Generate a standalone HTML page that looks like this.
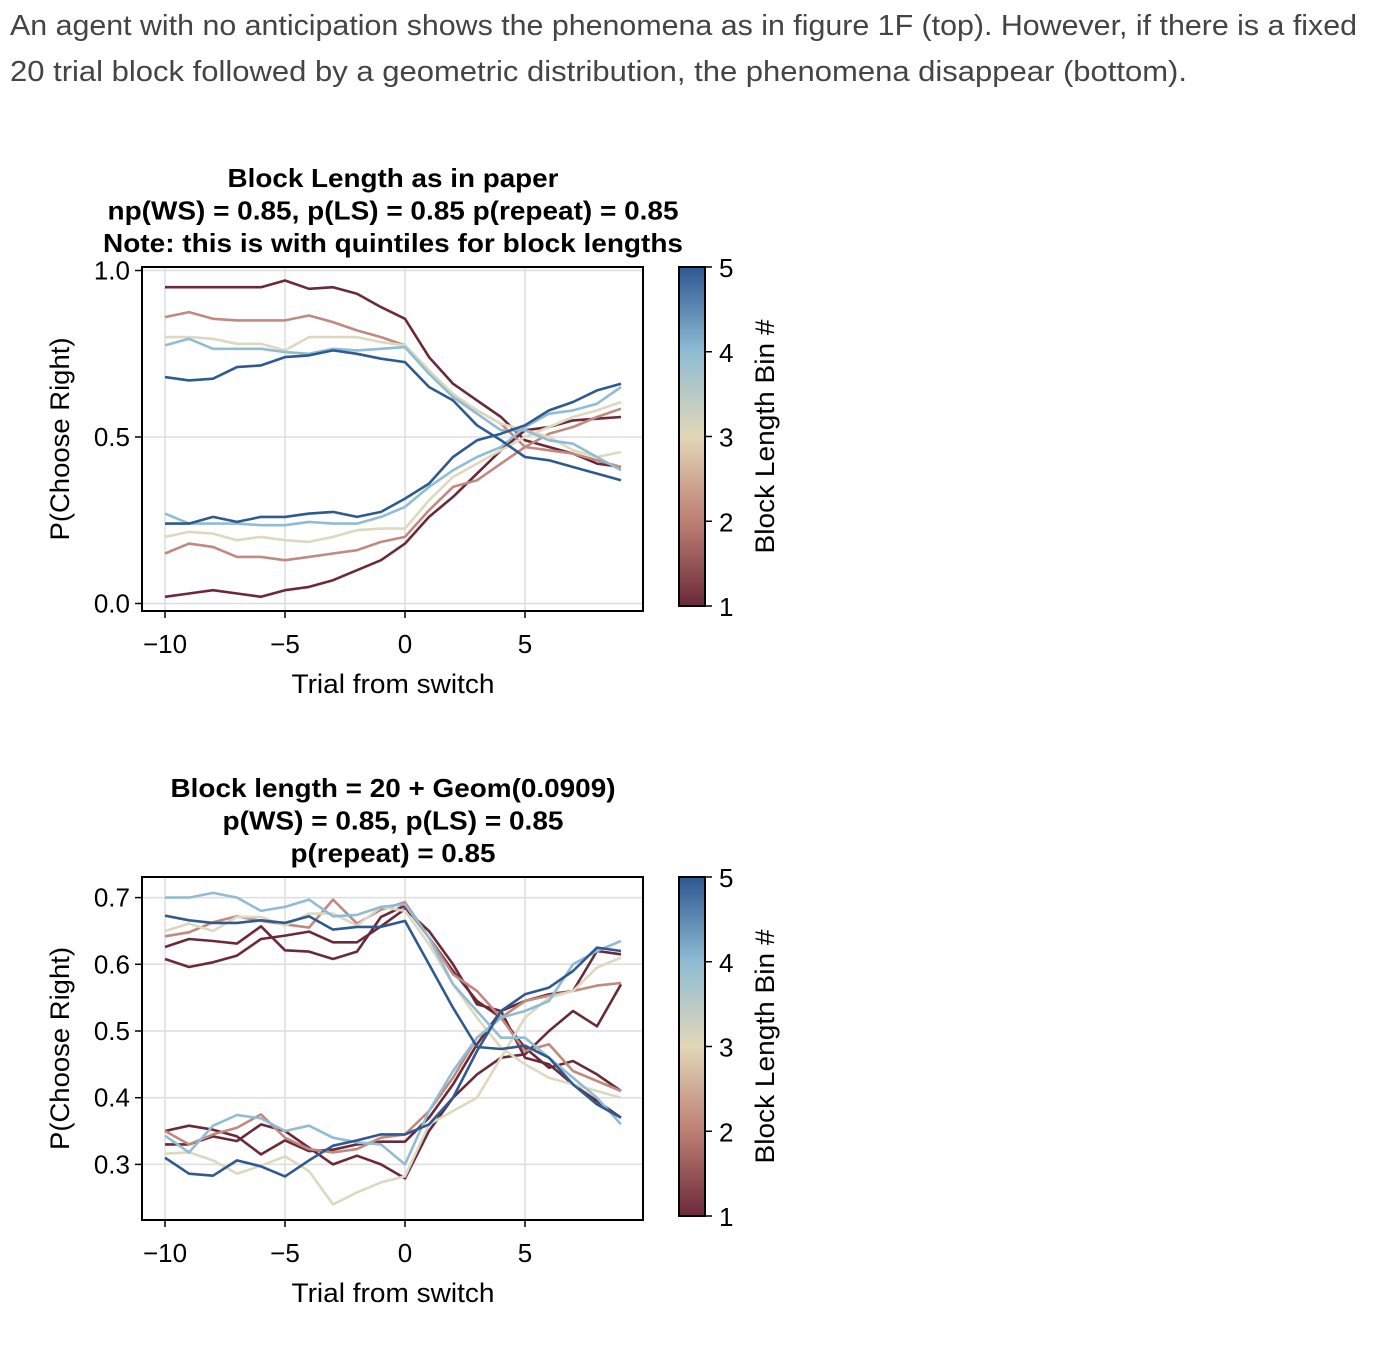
<!DOCTYPE html>
<html><head><meta charset="utf-8"><style>
html,body{margin:0;padding:0;background:#fff;}
svg{display:block;font-family:"Liberation Sans",sans-serif;}
</style></head><body>
<svg id="root" width="1378" height="1362" viewBox="0 0 1378 1362" xmlns="http://www.w3.org/2000/svg">
<defs>
<linearGradient id="cbgrad" x1="0" y1="1" x2="0" y2="0">
<stop offset="0" stop-color="#6b2a3a"/><stop offset="0.25" stop-color="#bd7f74"/><stop offset="0.5" stop-color="#e2d7b8"/><stop offset="0.75" stop-color="#8fbcd3"/><stop offset="1" stop-color="#2e5791"/>
</linearGradient>
</defs>
<text x="10" y="35" font-size="29" fill="#444" textLength="1347" lengthAdjust="spacingAndGlyphs">An agent with no anticipation shows the phenomena as in figure 1F (top). However, if there is a fixed</text>
<text x="10" y="81" font-size="29" fill="#444" textLength="1177" lengthAdjust="spacingAndGlyphs">20 trial block followed by a geometric distribution, the phenomena disappear (bottom).</text>
<g id="top"></g>
<g id="bot"></g>
</svg>
<script>
const trials = [-10,-9,-8,-7,-6,-5,-4,-3,-2,-1,0,1,2,3,4,5,6,7,8,9];
const binColors = ["#6b2a3a","#c08a80","#ddd8c0","#90bcd4","#2f5a90"];
// top chart series
const topBins = [1,1,2,2,3,3,4,4,5,5];
const topB1High = [0.95,0.95,0.95,0.95,0.95,0.97,0.945,0.95,0.93,0.89,0.855,0.74,0.66,0.61,0.56,0.49,0.47,0.45,0.42,0.41];
const topB1Low = [0.02,0.03,0.04,0.03,0.02,0.04,0.05,0.07,0.10,0.13,0.18,0.26,0.32,0.39,0.46,0.52,0.53,0.55,0.555,0.56];
const topB2High = [0.86,0.875,0.855,0.85,0.85,0.85,0.865,0.845,0.82,0.80,0.775,0.70,0.62,0.58,0.54,0.47,0.46,0.45,0.43,0.41];
const topB2Low = [0.15,0.18,0.17,0.14,0.14,0.13,0.14,0.15,0.16,0.185,0.20,0.28,0.35,0.37,0.42,0.47,0.51,0.53,0.56,0.585];
const topB3High = [0.80,0.80,0.795,0.78,0.78,0.76,0.80,0.80,0.80,0.785,0.775,0.70,0.63,0.58,0.54,0.52,0.50,0.46,0.44,0.455];
const topB3Low = [0.20,0.215,0.21,0.19,0.20,0.19,0.185,0.20,0.22,0.225,0.225,0.31,0.38,0.42,0.46,0.50,0.53,0.56,0.58,0.605];
const topB4High = [0.775,0.795,0.765,0.765,0.765,0.755,0.75,0.765,0.76,0.765,0.77,0.69,0.62,0.57,0.52,0.52,0.49,0.48,0.44,0.40];
const topB4Low = [0.27,0.24,0.24,0.24,0.235,0.235,0.245,0.24,0.24,0.26,0.29,0.35,0.40,0.44,0.47,0.53,0.57,0.58,0.60,0.65];
const topB5High = [0.68,0.67,0.675,0.71,0.715,0.74,0.745,0.76,0.75,0.735,0.725,0.65,0.61,0.535,0.49,0.44,0.43,0.41,0.39,0.37];
const topB5Low = [0.24,0.24,0.26,0.245,0.26,0.26,0.27,0.275,0.26,0.275,0.315,0.36,0.44,0.49,0.51,0.535,0.58,0.605,0.64,0.66];
// bottom chart series
const botBins = [1,1,1,1,2,2,3,3,4,4,5,5];
const botB1HighA = [0.626,0.638,0.635,0.631,0.657,0.621,0.619,0.608,0.619,0.671,0.688,0.64,0.59,0.545,0.52,0.475,0.445,0.455,0.435,0.41];
const botB1HighB = [0.608,0.596,0.603,0.613,0.638,0.643,0.649,0.633,0.633,0.657,0.683,0.65,0.60,0.54,0.53,0.46,0.45,0.42,0.395,0.37];
const botB1LowA = [0.35,0.358,0.352,0.342,0.315,0.336,0.32,0.322,0.33,0.334,0.334,0.37,0.42,0.48,0.53,0.545,0.555,0.56,0.62,0.615];
const botB1LowB = [0.33,0.33,0.342,0.335,0.36,0.35,0.325,0.30,0.313,0.30,0.279,0.35,0.40,0.435,0.46,0.465,0.50,0.53,0.507,0.57];
const botB2High = [0.642,0.648,0.663,0.672,0.665,0.66,0.655,0.697,0.661,0.682,0.693,0.64,0.585,0.56,0.52,0.47,0.48,0.44,0.425,0.41];
const botB2Low = [0.35,0.33,0.345,0.355,0.375,0.34,0.323,0.318,0.323,0.34,0.345,0.38,0.43,0.49,0.52,0.545,0.553,0.56,0.568,0.572];
const botB3High = [0.65,0.661,0.65,0.671,0.671,0.658,0.676,0.676,0.658,0.686,0.68,0.63,0.57,0.52,0.475,0.45,0.43,0.42,0.41,0.40];
const botB3Low = [0.316,0.318,0.306,0.286,0.298,0.312,0.29,0.24,0.258,0.273,0.282,0.36,0.38,0.40,0.46,0.52,0.55,0.56,0.595,0.61];
const botB4High = [0.70,0.70,0.707,0.70,0.68,0.686,0.697,0.672,0.674,0.686,0.69,0.64,0.57,0.53,0.49,0.49,0.46,0.43,0.40,0.36];
const botB4Low = [0.343,0.318,0.358,0.374,0.369,0.35,0.358,0.34,0.333,0.33,0.30,0.38,0.44,0.49,0.52,0.53,0.545,0.60,0.62,0.635];
const botB5High = [0.673,0.666,0.662,0.662,0.666,0.662,0.672,0.652,0.656,0.656,0.665,0.60,0.535,0.476,0.473,0.478,0.46,0.42,0.39,0.37];
const botB5Low = [0.31,0.286,0.283,0.306,0.297,0.282,0.306,0.328,0.336,0.345,0.345,0.36,0.40,0.47,0.53,0.555,0.565,0.59,0.625,0.62];
const xTicks = [-10,-5,0,5];
const topYTicks = [0.0,0.5,1.0];
const botYTicks = [0.3,0.4,0.5,0.6,0.7];
const cbTicks = [1,2,3,4,5];

const NS="http://www.w3.org/2000/svg";
function mk(parent,tag,attrs,text){const e=document.createElementNS(NS,tag);for(const k in attrs)e.setAttribute(k,attrs[k]);if(text!==undefined)e.textContent=text;parent.appendChild(e);return e;}
function fmtTick(v){return v<0?"\u2212"+Math.abs(v):String(v);}

function drawChart(g,cfg){
  const L=142,R=643,T=cfg.top,B=cfg.bottom;
  const xs=t=>165+(t+10)*24;
  const ys=v=>cfg.y0-(v-cfg.v0)*cfg.k;
  xTicks.forEach(t=>{const l=mk(g,"line",{x1:xs(t),x2:xs(t),y1:T,y2:B,stroke:"#ddd","stroke-width":1.5});
    
    });
  cfg.yTicks.forEach(v=>{const l=mk(g,"line",{x1:L,x2:R,y1:ys(v),y2:ys(v),stroke:"#ddd","stroke-width":1.5});
    
    });
  cfg.series.forEach((s,i)=>{
    const d=s.map((v,j)=>(j?"L":"M")+xs(trials[j]).toFixed(1)+","+ys(v).toFixed(1)).join("");
    const p=mk(g,"path",{d:d,fill:"none",stroke:binColors[cfg.bins[i]-1],"stroke-width":2.6,"stroke-linejoin":"round"});
    
    
  });
  const fr=mk(g,"rect",{x:L,y:T,width:R-L,height:B-T,fill:"none",stroke:"#000","stroke-width":2});
  
  
  xTicks.forEach(t=>{
    mk(g,"line",{x1:xs(t),x2:xs(t),y1:B,y2:B+7,stroke:"#000","stroke-width":1.5});
    const tx=mk(g,"text",{x:xs(t),y:B+42,"font-size":26,"text-anchor":"middle"},fmtTick(t));
    
    
  });
  cfg.yTicks.forEach(v=>{
    mk(g,"line",{x1:L-7,x2:L,y1:ys(v),y2:ys(v),stroke:"#000","stroke-width":1.5});
    const tx=mk(g,"text",{x:L-12,y:ys(v)+9,"font-size":26,"text-anchor":"end"},v.toFixed(1));
    
    
  });
  const xl=mk(g,"text",{x:393,y:B+82,"font-size":27,"text-anchor":"middle",textLength:203,lengthAdjust:"spacingAndGlyphs"},"Trial from switch");
  
  
  const yc=(T+B)/2;
  const yl=mk(g,"text",{x:0,y:0,"font-size":27,"text-anchor":"middle",textLength:203,lengthAdjust:"spacingAndGlyphs",transform:`translate(69,${yc}) rotate(-90)`},"P(Choose Right)");
  
  
  cfg.titles.forEach((t,i)=>{
    const tt=mk(g,"text",{x:393,y:cfg.titleY+i*32.5,"font-size":26,"font-weight":"bold","text-anchor":"middle",textLength:cfg.titleW[i],lengthAdjust:"spacingAndGlyphs"},t);
    
    
  });
  const cT=T,cB=T+339,cx=679,cw=26;
  const cb=mk(g,"rect",{x:cx,y:cT,width:cw,height:cB-cT,fill:"url(#cbgrad)",stroke:"#000","stroke-width":2});
  
  
  cbTicks.forEach(v=>{
    const y=cB-(v-1)/4*(cB-cT);
    mk(g,"line",{x1:cx+cw,x2:cx+cw+7,y1:y,y2:y,stroke:"#000","stroke-width":1.5});
    const tx=mk(g,"text",{x:cx+cw+14,y:y+10,"font-size":26},String(v));
    
    
  });
  const cl=mk(g,"text",{x:0,y:0,"font-size":27,"text-anchor":"middle",textLength:234,lengthAdjust:"spacingAndGlyphs",transform:`translate(774,${(cT+cB)/2}) rotate(-90)`},"Block Length Bin #");
  
  
}

drawChart(document.getElementById("top"),{
  top:267,bottom:611,y0:603.5,v0:0,k:333,yTicks:topYTicks,
  series:[topB1High,topB1Low,topB2High,topB2Low,topB3High,topB3Low,topB4High,topB4Low,topB5High,topB5Low],
  bins:topBins,titleY:187,titleW:[331,571,580],
  titles:["Block Length as in paper","np(WS) = 0.85, p(LS) = 0.85 p(repeat) = 0.85","Note: this is with quintiles for block lengths"]
});
drawChart(document.getElementById("bot"),{
  top:877,bottom:1220,y0:1031,v0:0.5,k:667,yTicks:botYTicks,
  series:[botB1HighA,botB1HighB,botB1LowA,botB1LowB,botB2High,botB2Low,botB3High,botB3Low,botB4High,botB4Low,botB5High,botB5Low],
  bins:botBins,titleY:797,titleW:[445,341,205],
  titles:["Block length = 20 + Geom(0.0909)","p(WS) = 0.85, p(LS) = 0.85","p(repeat) = 0.85"]
});
</script>
</body></html>
